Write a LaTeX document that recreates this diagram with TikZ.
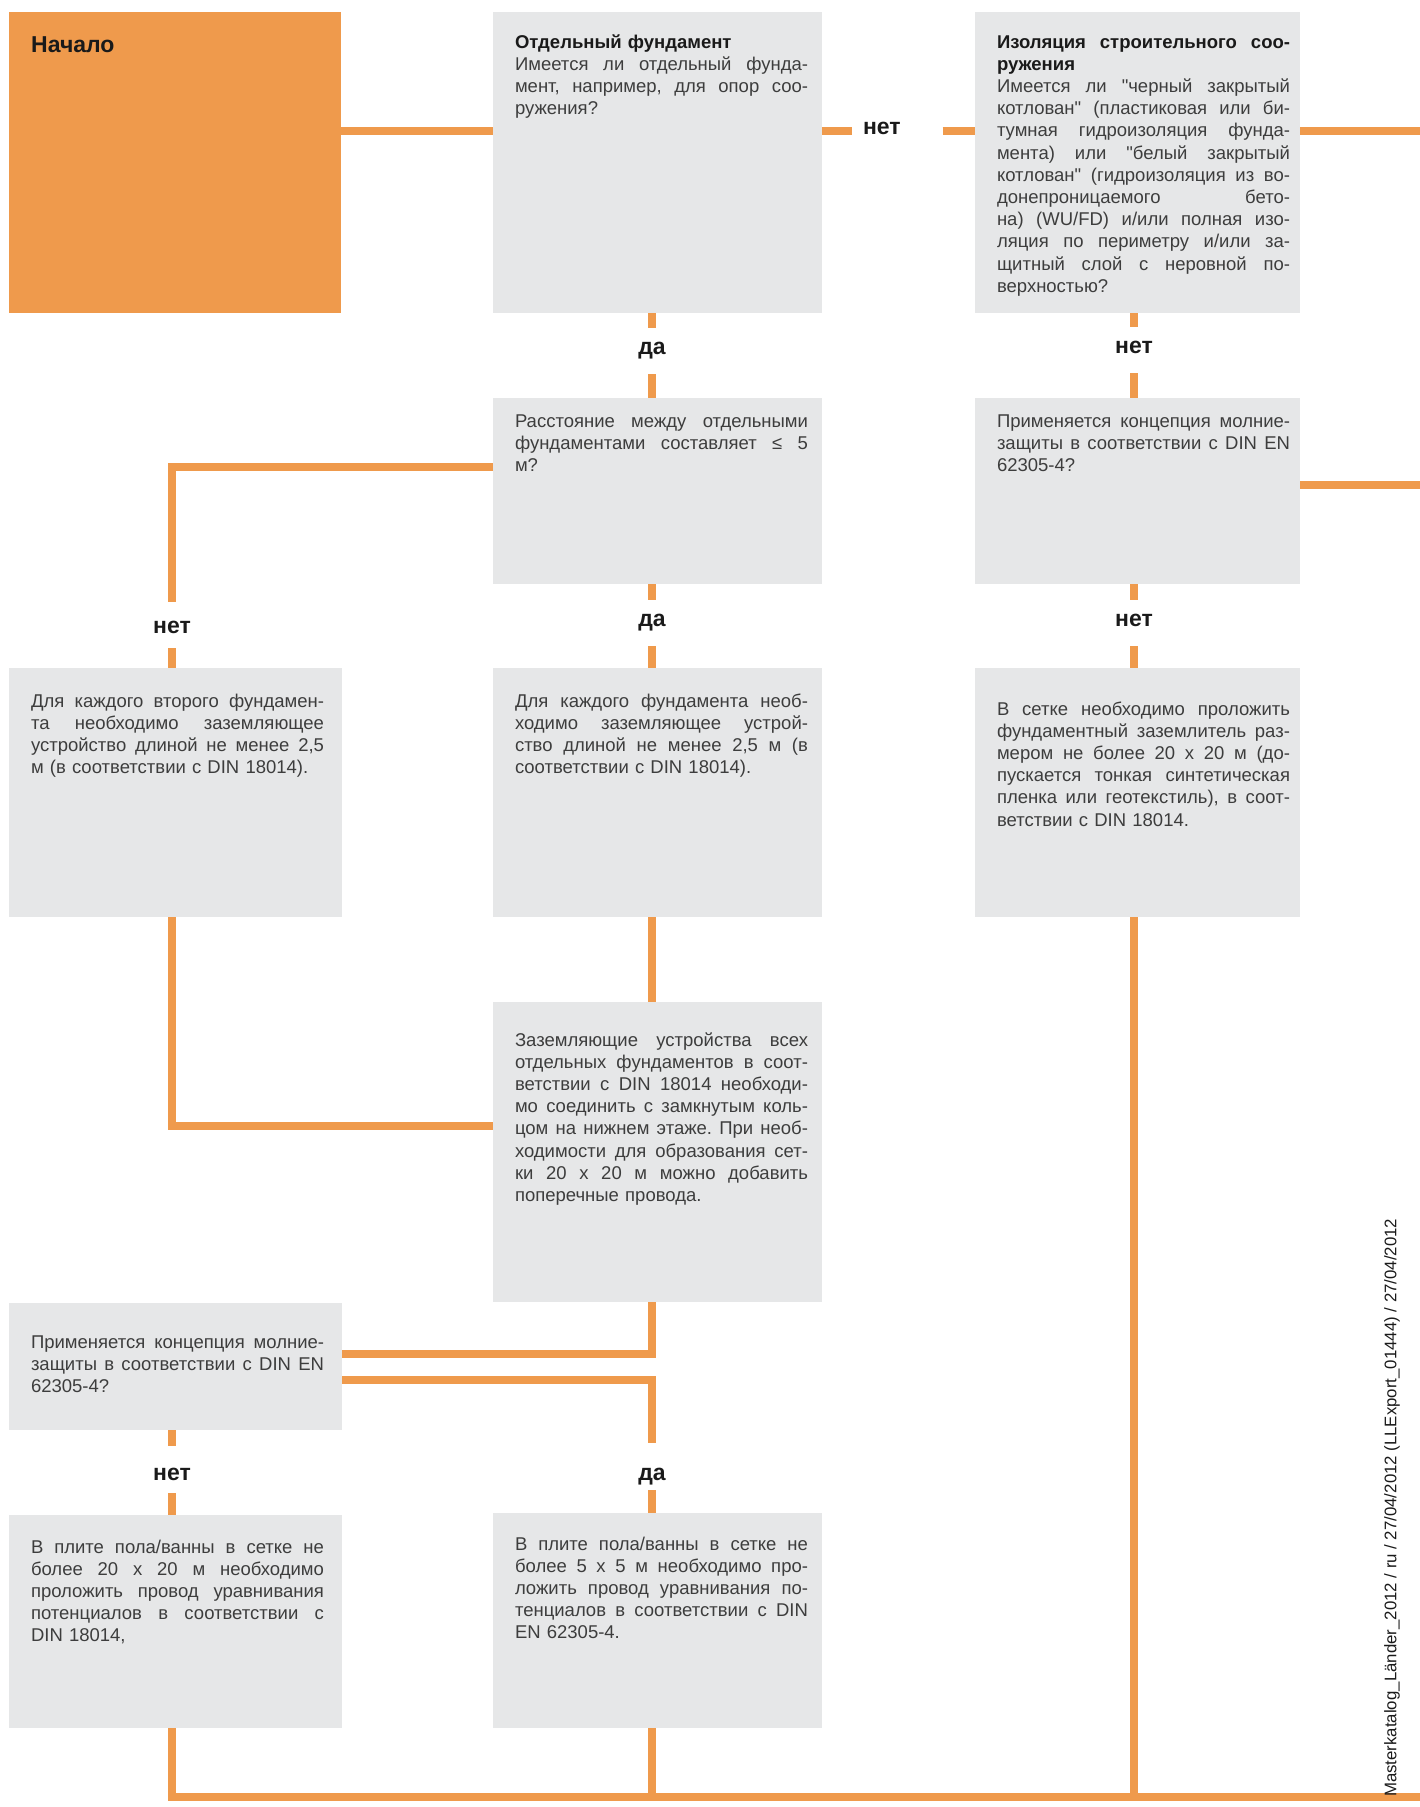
\documentclass[tikz,border=0pt]{standalone}
\usepackage{fontspec}
\setmainfont{Liberation Sans}[Ligatures=TeXOff]

\definecolor{flame}{HTML}{EF9A4C}
\definecolor{boxgray}{HTML}{E6E7E8}
\definecolor{inkgray}{HTML}{3D3D3D}
\definecolor{ink}{HTML}{1A1A1A}

\newlength{\boxtw}
\setlength{\boxtw}{293pt}
\newcommand{\bodyfont}{\fontsize{18.5pt}{22.2pt}\selectfont\frenchspacing}
\newcommand{\answerfont}{\fontsize{23pt}{26pt}\selectfont\bfseries}
\newcommand{\footfont}{\fontsize{16.8pt}{20pt}\selectfont}
% one justified line / one line at natural width
\newcommand{\jline}[1]{\noindent\hbox to\boxtw{\spaceskip=.278em plus 1fil\relax#1}\par}
\newcommand{\lline}[1]{\noindent\hbox{#1}\par}

\begin{document}
\begin{tikzpicture}[x=1pt, y=-1pt,
    qbox/.style={fill=boxgray, anchor=north west, inner sep=0pt, outer sep=0pt},
    startbox/.style={qbox, fill=flame},
    btext/.style={anchor=north west, inner sep=0pt, outer sep=0pt, text width=\boxtw, font=\bodyfont, text=inkgray},
    answer/.style={font=\answerfont, text=ink, inner sep=0pt, outer sep=0pt, anchor=base, text height=26pt, text depth=20pt},
    flow/.style={draw=flame, line width=8pt}
  ]
  \useasboundingbox (0,0) rectangle (1420,1807);

  % --- Start ---
  \node[startbox, minimum width=332pt, minimum height=301pt] (start) at (9,12) {};
  \node[anchor=base west, inner sep=0pt, font=\answerfont, text=ink] (startT) at (31,52) {Начало};

  % --- Row 1 ---
  \node[qbox, minimum width=329pt, minimum height=301pt] (fund) at (493,12) {};
  \node[btext] (fundT) at (515,32.5) {%
    \lline{\strut\bfseries\color{ink}Отдельный фундамент}
    \jline{Имеется ли отдельный фунда-}
    \jline{мент, например, для опор соо-}
    \lline{ружения?}};

  \node[qbox, minimum width=325pt, minimum height=301pt] (iso) at (975,12) {};
  \node[btext] (isoT) at (997,32.5) {%
    \jline{\strut\bfseries\color{ink}Изоляция строительного соо-}
    \lline{\bfseries\color{ink}ружения}
    \jline{Имеется ли "черный закрытый}
    \jline{котлован" (пластиковая или би-}
    \jline{тумная гидроизоляция фунда-}
    \jline{мента) или "белый закрытый}
    \jline{котлован" (гидроизоляция из во-}
    \jline{донепроницаемого бето-}
    \jline{на) (WU/FD) и/или полная изо-}
    \jline{ляция по периметру и/или за-}
    \jline{щитный слой с неровной по-}
    \lline{верхностью?}};

  % --- Row 2 ---
  \node[qbox, minimum width=329pt, minimum height=186pt] (dist) at (493,398) {};
  \node[btext] (distT) at (515,411.5) {%
    \jline{\strut Расстояние между отдельными}
    \jline{фундаментами составляет ≤ 5}
    \lline{м?}};

  \node[qbox, minimum width=325pt, minimum height=186pt] (conc) at (975,398) {};
  \node[btext] (concT) at (997,411.5) {%
    \jline{\strut Применяется концепция молние-}
    \jline{защиты в соответствии с DIN EN}
    \lline{62305-4?}};

  % --- Row 3 ---
  \node[qbox, minimum width=333pt, minimum height=249pt] (each2) at (9,668) {};
  \node[btext] (each2T) at (31,691.5) {%
    \jline{\strut Для каждого второго фундамен-}
    \jline{та необходимо заземляющее}
    \jline{устройство длиной не менее 2,5}
    \lline{м (в соответствии с DIN 18014).}};

  \node[qbox, minimum width=329pt, minimum height=249pt] (each) at (493,668) {};
  \node[btext] (eachT) at (515,691.5) {%
    \jline{\strut Для каждого фундамента необ-}
    \jline{ходимо заземляющее устрой-}
    \jline{ство длиной не менее 2,5 м (в}
    \lline{соответствии с DIN 18014).}};

  \node[qbox, minimum width=325pt, minimum height=249pt] (grid) at (975,668) {};
  \node[btext] (gridT) at (997,699.5) {%
    \jline{\strut В сетке необходимо проложить}
    \jline{фундаментный заземлитель раз-}
    \jline{мером не более 20 x 20 м (до-}
    \jline{пускается тонкая синтетическая}
    \jline{пленка или геотекстиль), в соот-}
    \lline{ветствии с DIN 18014.}};

  % --- Ring ---
  \node[qbox, minimum width=329pt, minimum height=300pt] (ring) at (493,1002) {};
  \node[btext] (ringT) at (515,1030.5) {%
    \jline{\strut Заземляющие устройства всех}
    \jline{отдельных фундаментов в соот-}
    \jline{ветствии с DIN 18014 необходи-}
    \jline{мо соединить с замкнутым коль-}
    \jline{цом на нижнем этаже. При необ-}
    \jline{ходимости для образования сет-}
    \jline{ки 20 x 20 м можно добавить}
    \lline{поперечные провода.}};

  % --- Lower rows ---
  \node[qbox, minimum width=333pt, minimum height=127pt] (conc2) at (9,1303) {};
  \node[btext] (conc2T) at (31,1332.5) {%
    \jline{\strut Применяется концепция молние-}
    \jline{защиты в соответствии с DIN EN}
    \lline{62305-4?}};

  \node[qbox, minimum width=333pt, minimum height=213pt] (floorA) at (9,1515) {};
  \node[btext] (floorAT) at (31,1537.5) {%
    \jline{\strut В плите пола/ванны в сетке не}
    \jline{более 20 x 20 м необходимо}
    \jline{проложить провод уравнивания}
    \jline{потенциалов в соответствии с}
    \lline{DIN 18014,}};

  \node[qbox, minimum width=329pt, minimum height=215pt] (floorB) at (493,1513) {};
  \node[btext] (floorBT) at (515,1534.5) {%
    \jline{\strut В плите пола/ванны в сетке не}
    \jline{более 5 x 5 м необходимо про-}
    \jline{ложить провод уравнивания по-}
    \jline{тенциалов в соответствии с DIN}
    \lline{EN 62305-4.}};

  % --- Answers ---
  \node[answer, anchor=base west] (noR) at (863,134) {нет};
  \node[answer] (yes1) at (652,354) {да};
  \node[answer] (noT) at (1134,353) {нет};
  \node[answer] (yes2) at (652,626) {да};
  \node[answer] (noM) at (1134,626) {нет};
  \node[answer, text height=31pt, text depth=15pt] (noL) at (172,633) {нет};
  \node[answer, text height=34pt, text depth=13pt] (noB) at (172,1480) {нет};
  \node[answer, text height=37pt, text depth=10pt] (yes3) at (652,1480) {да};

  % free ends at the page edge
  \coordinate (rimA) at (1420,131);
  \coordinate (rimB) at (1420,485);
  \coordinate (rimC) at (1420,1797);

  % --- Connectors ---
  \draw[flow] (start.east |- noR.west) -- (fund.west |- noR.west);
  \draw[flow, shorten >=11pt] (fund.east |- noR.west) -- (noR.west);
  \draw[flow, shorten <=42pt] (noR.east) -- (iso.west |- noR.east);
  \draw[flow] (iso.east |- noR.east) -- (rimA);

  \draw[flow] (fund.south -| yes1) -- (yes1.north);
  \draw[flow] (yes1.south) -- (dist.north -| yes1);
  \draw[flow] (iso.south -| noT) -- (noT.north);
  \draw[flow] (noT.south) -- (conc.north -| noT);
  \draw[flow] ([yshift=6pt]conc.east) -- (rimB);

  \draw[flow] (dist.south -| yes2) -- (yes2.north);
  \draw[flow] (yes2.south) -- (each.north -| yes2);
  \draw[flow] ([yshift=24pt]dist.west) -| (noL.north);
  \draw[flow] (noL.south) -- (each2.north -| noL);
  \draw[flow] (conc.south -| noM) -- (noM.north);
  \draw[flow] (noM.south) -- (grid.north -| noM);

  \draw[flow] (each.south -| yes2) -- (ring.north -| yes2);
  \draw[flow] (each2.south -| noL) |- ([yshift=26pt]ring.west);

  \draw[flow] (ring.south -| yes3) |- ([yshift=13pt]conc2.east);
  \draw[flow] ([yshift=-13pt]conc2.east) -| (yes3.north);
  \draw[flow] (yes3.south) -- (floorB.north -| yes3);
  \draw[flow] (conc2.south -| noB) -- (noB.north);
  \draw[flow] (noB.south) -- (floorA.north -| noB);

  \draw[flow] (floorA.south -| noB) |- (rimC);
  \draw[flow] (floorB.south -| yes3) -- (yes3 |- rimC);
  \draw[flow] (grid.south -| noM) -- (noM |- rimC);

  % --- Stamp ---
  \node[rotate=90, anchor=west, inner sep=0pt, font=\footfont, text=ink] (stamp) at (1392,1797)
    {Masterkatalog\_Länder\_2012 / ru / 27/04/2012 (LLExport\_01444) / 27/04/2012};
\end{tikzpicture}
\end{document}
